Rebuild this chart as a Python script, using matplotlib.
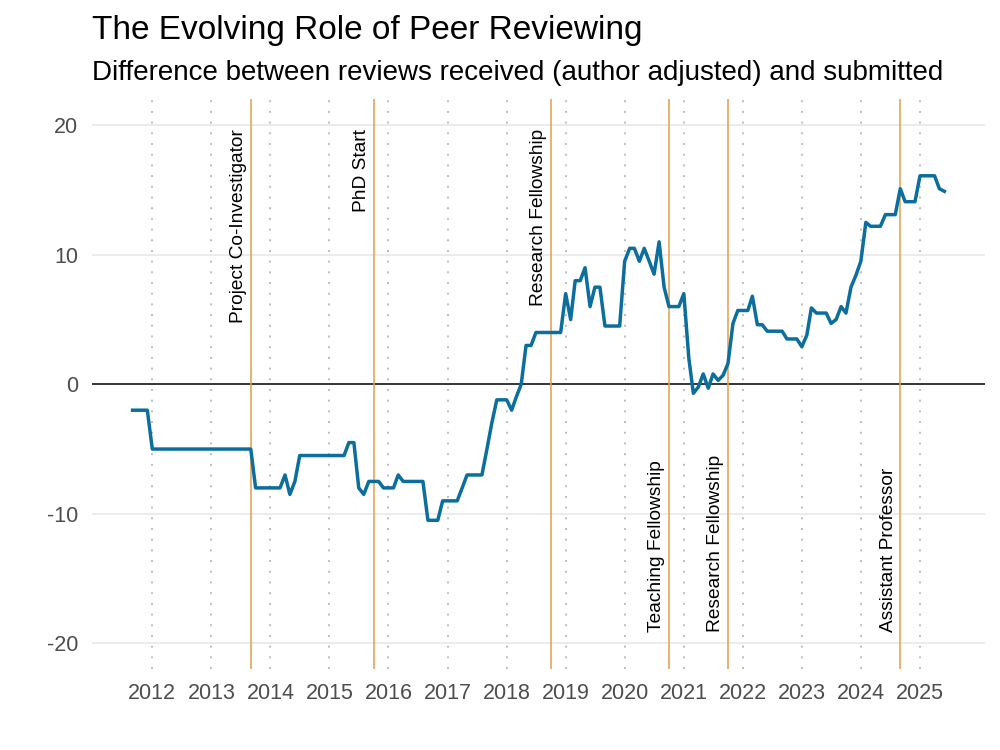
import numpy as np
import pandas as pd
import matplotlib
matplotlib.use("Agg")
import matplotlib.pyplot as plt
import matplotlib.dates as mdates

plt.rcParams['font.family'] = ['Liberation Sans', 'DejaVu Sans']
plt.rcParams['axes.unicode_minus'] = False

# monthly difference (reviews received, author adjusted, minus submitted)
start_month = "2011-09-01"
difference = [
    -2, -2, -2, -2, -5, -5, -5, -5, -5, -5, -5, -5, -5, -5, -5, -5, -5, -5,
    -5, -5, -5, -5, -5, -5, -5, -8, -8, -8, -8, -8, -8, -7, -8.5, -7.5,
    -5.5, -5.5, -5.5, -5.5, -5.5, -5.5, -5.5, -5.5, -5.5, -5.5, -4.5, -4.5,
    -8, -8.5, -7.5, -7.5, -7.5, -8, -8, -8, -7, -7.5, -7.5, -7.5, -7.5, -7.5,
    -10.5, -10.5, -10.5, -9, -9, -9, -9, -8, -7, -7, -7, -7, -5, -3,
    -1.2, -1.2, -1.2, -2, -1, 0, 3, 3, 4, 4, 4, 4, 4, 4,
    7, 5, 8, 8, 9, 6, 7.5, 7.5, 4.5, 4.5, 4.5, 4.5,
    9.5, 10.5, 10.5, 9.5, 10.5, 9.5, 8.5, 11, 7.5, 6, 6, 6, 7, 2,
    -0.7, -0.2, 0.8, -0.3, 0.8, 0.3, 0.7, 1.6, 4.7, 5.7, 5.7, 5.7, 6.8,
    4.6, 4.6, 4.1, 4.1, 4.1, 4.1, 3.5, 3.5, 3.5, 2.9, 3.8, 5.9, 5.5, 5.5, 5.5,
    4.7, 5.0, 6.0, 5.5, 7.5, 8.4, 9.5, 12.5, 12.2, 12.2, 12.2, 13.1, 13.1, 13.1,
    15.1, 14.1, 14.1, 14.1, 16.1, 16.1, 16.1, 16.1, 15.1, 14.9,
]
months = pd.date_range(start_month, periods=len(difference), freq="MS")

event_dates = pd.to_datetime(["2013-09-01", "2015-10-01", "2018-10-01",
                              "2020-10-01", "2021-10-01", "2024-09-01"])
event_labels = ["Project Co-Investigator", "PhD Start", "Research Fellowship",
                "Teaching Fellowship", "Research Fellowship", "Assistant Professor"]
event_on_top = [True, True, True, False, False, False]

years = pd.to_datetime([f"{y}-01-01" for y in range(2012, 2026)])

fig = plt.figure(figsize=(10, 7.5), dpi=100)
ax = fig.add_axes([0.092, 0.1077, 0.893, 0.7598])

for sp in ax.spines.values():
    sp.set_visible(False)
ax.tick_params(length=0, labelsize=15.5, labelcolor="#4D4D4D")
ax.tick_params(axis="x", pad=10)
ax.tick_params(axis="y", pad=10)

ax.set_ylim(-22, 22)
ax.set_yticks([-20, -10, 0, 10, 20])
for yv in [-20, -10, 10, 20]:
    ax.axhline(yv, color="#EBEBEB", lw=1.3, zorder=0)

for yr in years:
    ax.axvline(yr, color="#BDBDBD", lw=1.4, linestyle=(0, (1, 4.5)), zorder=1)

ax.axhline(0, color="black", lw=1.1, zorder=2)

for d, lab, top in zip(event_dates, event_labels, event_on_top):
    ax.axvline(d, color="#E0A04A", lw=1.1, zorder=2)
    xt = d - pd.Timedelta(days=22)
    if top:
        ax.text(xt, 19.7, lab, rotation=90, ha="right", va="top", fontsize=13.8)
    else:
        ax.text(xt, -19.1, lab, rotation=90, ha="right", va="bottom", fontsize=13.8)

ax.plot(months, difference, color="#0B6E9C", lw=2.5, zorder=3)

ax.set_xticks(years)
ax.xaxis.set_major_formatter(mdates.DateFormatter("%Y"))
span = months[-1] - months[0]
ax.set_xlim(months[0] - span * 0.05, months[-1] + span * 0.05)

fig.text(0.092, 1 - 39 / 750, "The Evolving Role of Peer Reviewing",
         fontsize=24, va="baseline", ha="left")
fig.text(0.092, 1 - 80 / 750,
         "Difference between reviews received (author adjusted) and submitted",
         fontsize=20, va="baseline", ha="left")

fig.savefig("out.png", dpi=100)
